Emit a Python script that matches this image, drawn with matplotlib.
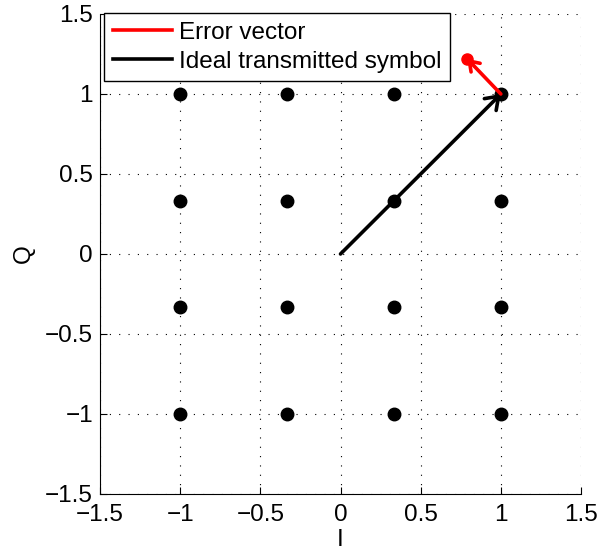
import matplotlib
matplotlib.use("Agg")
import matplotlib.pyplot as plt
import numpy as np

levels = [-1, -1/3, 1/3, 1]
ideal_symbol = (1.0, 1.0)
received_symbol = (0.79, 1.22)
ticks = [-1.5, -1, -0.5, 0, 0.5, 1, 1.5]
tick_labels = ["\u22121.5", "\u22121", "\u22120.5", "0", "0.5", "1", "1.5"]

FS = 17.5
plt.rcParams['font.family'] = ['Liberation Sans', 'DejaVu Sans']
fig = plt.figure(figsize=(5.98, 5.53), dpi=100)
ax = fig.add_axes([100/598, 1-494/553, 481/598, 480/553])

I, Q = np.meshgrid(levels, levels)
ax.plot(I.ravel(), Q.ravel(), 'o', color='black', markersize=9, zorder=3, clip_on=False)

# ideal vector
ax.annotate('', xy=ideal_symbol, xytext=(0, 0),
            arrowprops=dict(arrowstyle='->,head_length=0.85,head_width=0.6', color='black',
                            lw=2.6, shrinkA=0, shrinkB=0), zorder=4)
# error vector
ax.annotate('', xy=received_symbol, xytext=ideal_symbol,
            arrowprops=dict(arrowstyle='->,head_length=0.65,head_width=0.45', color='red',
                            lw=2.6, shrinkA=0, shrinkB=0), zorder=5)
ax.plot([received_symbol[0]], [received_symbol[1]], 'o', color='red', markersize=8, zorder=5)

# legend proxies
l1, = ax.plot([], [], color='red', lw=2.6, label='Error vector')
l2, = ax.plot([], [], color='black', lw=2.6, label='Ideal transmitted symbol')
leg = fig.legend(handles=[l1, l2], loc='upper left', fontsize=FS, frameon=True, fancybox=False,
                 edgecolor='black', framealpha=1, bbox_to_anchor=(104/598, 1-13/553),
                 bbox_transform=fig.transFigure, borderaxespad=0, handlelength=2.45,
                 labelspacing=0.3, borderpad=0.35, handletextpad=0.3)
leg.get_frame().set_linewidth(1.0)

ax.set_xlim(-1.5, 1.5)
ax.set_ylim(-1.5, 1.5)
ax.set_xticks(ticks)
ax.set_yticks(ticks)
ax.set_xticklabels(tick_labels)
ax.set_yticklabels(tick_labels)
ax.tick_params(direction='in', labelsize=FS, length=5, width=0.8)
ax.tick_params(axis='x', pad=7)
ax.tick_params(axis='y', pad=5)
ax.grid(True, linestyle=(0, (1, 7.4)), color='black', linewidth=0.8)
ax.spines['top'].set_visible(False)
ax.spines['right'].set_visible(False)
for s in ax.spines.values():
    s.set_linewidth(0.8)
ax.set_xlabel('I', fontsize=FS)
ax.set_ylabel('Q', fontsize=FS)
ax.xaxis.set_label_coords(0.5, -0.072)
ax.yaxis.set_label_coords(-0.135, 0.5)

fig.savefig('out.png', dpi=100)
